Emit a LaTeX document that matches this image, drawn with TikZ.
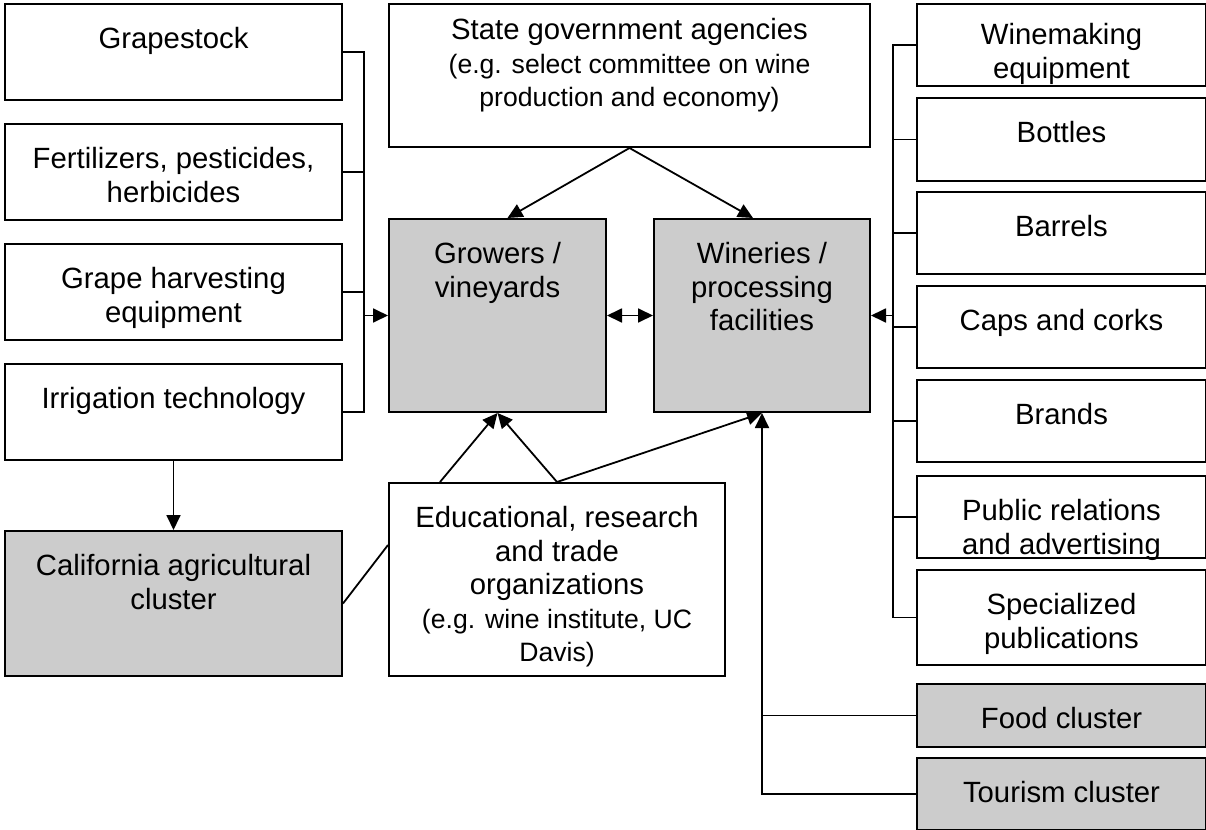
\documentclass[tikz,border=0pt]{standalone}
\usepackage{fontspec}
\setmainfont{Liberation Sans}
\usetikzlibrary{arrows.meta,calc}
\definecolor{boxgray}{RGB}{204,204,204}
\newcommand\smallf{\fontsize{13.3pt}{15pt}\selectfont}
\begin{document}
\begin{tikzpicture}[x=0.5pt, y=-0.5pt, line width=0.9pt,
  box/.style={draw, line width=1pt, anchor=north west, inner sep=0pt},
  grey/.style={box, fill=boxgray},
  txt/.style={anchor=north, yshift=-11.75pt, align=center, inner sep=0pt,
    font=\fontsize{14.65pt}{16.75pt}\selectfont},
  arr/.style={-{Triangle[length=7.5pt,width=7pt]}},
  dbl/.style={{Triangle[length=7.5pt,width=7pt]}-{Triangle[length=7.5pt,width=7pt]}}]
 \useasboundingbox (0,0) rectangle (1206,830);
 %left column
 \node[box, minimum width=168.5pt, minimum height=48pt, label={[txt]north:Grapestock}] (grape) at (4,3) {};
 \node[box, minimum width=168.5pt, minimum height=48pt, label={[txt]north:{Fertilizers, pesticides,\\herbicides}}] (fert) at (4,123) {};
 \node[box, minimum width=168.5pt, minimum height=48pt, label={[txt]north:{Grape harvesting\\equipment}}] (harvest) at (4,243) {};
 \node[box, minimum width=168.5pt, minimum height=48pt, label={[txt]north:Irrigation technology}] (irrig) at (4,363) {};
 \node[grey, minimum width=168.5pt, minimum height=72.5pt, label={[txt]north:{California agricultural\\cluster}}] (calif) at (4,530) {};
 %middle
 \node[box, minimum width=240.5pt, minimum height=71.5pt, label={[txt, yshift=4.5pt]north:{State government agencies\\\smallf(e.g. select committee on wine\\\smallf production and economy)}}] (state) at (388,3) {};
 \node[grey, minimum width=108.5pt, minimum height=96.5pt, label={[txt]north:{Growers /\\vineyards}}] (growers) at (388,218) {};
 \node[grey, minimum width=108pt, minimum height=96.5pt, label={[txt]north:{Wineries /\\processing\\facilities}}] (wineries) at (653,218) {};
 \node[box, minimum width=168pt, minimum height=96.5pt, label={[txt]north:{Educational, research\\and trade\\organizations\\\smallf(e.g. wine institute, UC\\\smallf Davis)}}] (educ) at (388,482) {};
 %right column
 \node[box, minimum width=144.5pt, minimum height=41pt, label={[txt, yshift=2pt]north:{Winemaking\\equipment}}] (winemaking) at (916,3) {};
 \node[box, minimum width=144.5pt, minimum height=41.5pt, label={[txt]north:Bottles}] (bottles) at (916,97) {};
 \node[box, minimum width=144.5pt, minimum height=41pt, label={[txt]north:Barrels}] (barrels) at (916,191) {};
 \node[box, minimum width=144.5pt, minimum height=41pt, label={[txt]north:Caps and corks}] (caps) at (916,285) {};
 \node[box, minimum width=144.5pt, minimum height=41pt, label={[txt]north:Brands}] (brands) at (916,379) {};
 \node[box, minimum width=144.5pt, minimum height=41pt, label={[txt]north:{Public relations\\and advertising}}] (pr) at (916,475) {};
 \node[box, minimum width=144.5pt, minimum height=47.5pt, label={[txt]north:{Specialized\\publications}}] (spec) at (916,569) {};
 \node[grey, minimum width=144.5pt, minimum height=31.5pt, label={[txt]north:Food cluster}] (food) at (916,683) {};
 \node[grey, minimum width=144.5pt, minimum height=36pt, label={[txt]north:Tourism cluster}] (tourism) at (916,757) {};
 %connectors
 \coordinate (lbus) at (364,0);
 \coordinate (rbus) at (893,0);
 \draw (grape.east) -- (grape.east -| lbus) -- (irrig.east -| lbus) -- (irrig.east);
 \draw (fert.east) -- (fert.east -| lbus);
 \draw (harvest.east) -- (harvest.east -| lbus);
 \draw[arr] (growers.west -| lbus) -- (growers.west);
 \draw (winemaking.west) -- (winemaking.west -| rbus) -- (spec.west -| rbus) -- (spec.west);
 \foreach \n in {bottles, barrels, caps, brands, pr} \draw (\n.west) -- (\n.west -| rbus);
 \draw[arr] (wineries.east -| rbus) -- (wineries.east);
 \draw[arr] (state.south) -- ($(growers.north)+(10,0)$);
 \draw[arr] (state.south) -- ($(wineries.north)+(-9,0)$);
 \draw[dbl] (growers.east) -- (wineries.west);
 \draw[arr] (irrig.south) -- (calif.north);
 \draw[arr] ($(educ.north west)+(52,0)$) -- (growers.south);
 \draw[arr] (educ.north) -- (growers.south);
 \draw[arr] (educ.north) -- (wineries.south);
 \draw ($(educ.north west)+(0,63)$) -- (calif.east);
 \draw[arr] (tourism.west) -| (wineries.south);
 \draw (food.west) -- (food.west -| wineries.south);
\end{tikzpicture}
\end{document}
